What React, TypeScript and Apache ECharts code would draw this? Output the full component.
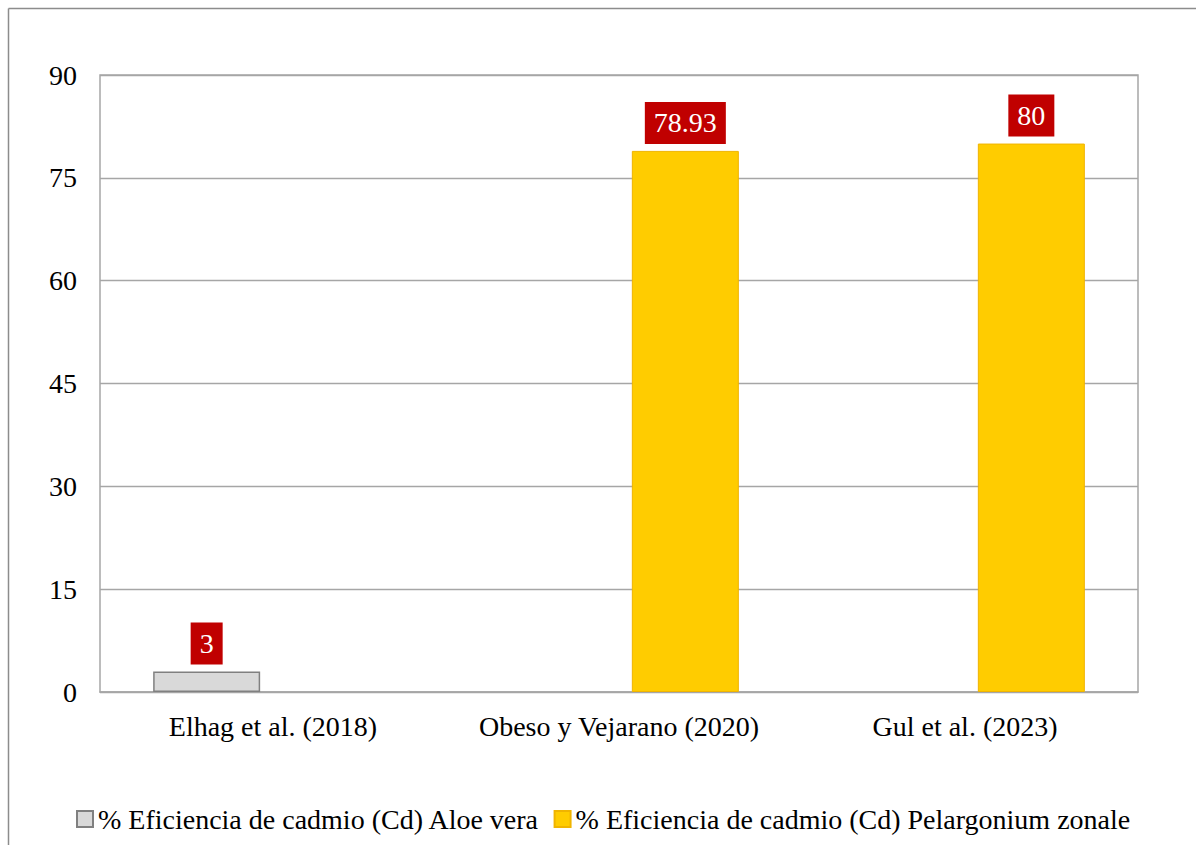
import React, { useEffect, useRef } from "react";
import * as echarts from "echarts";

const categories = ["Elhag et al. (2018)", "Obeso y Vejarano (2020)", "Gul et al. (2023)"];
const seriesNames = [
  "% Eficiencia de cadmio (Cd) Aloe vera",
  "% Eficiencia de cadmio (Cd) Pelargonium zonale",
];
const aloeValues: (number | string)[] = [3, "-", "-"];
const pelargoniumValues: (number | string)[] = ["-", 78.93, 80];
const yMin = 0;
const yMax = 90;
const yInterval = 15;

const FONT = "Liberation Serif";

export default function App() {
  const ref = useRef<HTMLDivElement>(null);
  useEffect(() => {
    if (!ref.current) return;
    const chart = echarts.init(ref.current, undefined, { renderer: "svg" });
    const label = {
      show: true,
      position: "top",
      distance: 7,
      backgroundColor: "#c00000",
      color: "#ffffff",
      fontFamily: FONT,
      fontSize: 28,
      lineHeight: 30,
      padding: [6, 9],
    };
    chart.setOption({
      animation: false,
      backgroundColor: "#ffffff",
      textStyle: { fontFamily: FONT },
      graphic: [
        {
          type: "line",
          shape: { x1: 8.5, y1: 8.5, x2: 1196, y2: 8.5 },
          style: { stroke: "#8c8c8c", lineWidth: 1.5 },
          silent: true,
        },
        {
          type: "line",
          shape: { x1: 8.5, y1: 8.5, x2: 8.5, y2: 845 },
          style: { stroke: "#8c8c8c", lineWidth: 1.5 },
          silent: true,
        },
      ],
      grid: {
        left: 100,
        right: 58,
        top: 75,
        bottom: 153,
        show: true,
        borderColor: "#a6a6a6",
        borderWidth: 1.5,
        containLabel: false,
      },
      legend: {
        left: 71,
        top: 800,
        itemWidth: 16,
        itemHeight: 16,
        itemGap: 14,
        icon: "rect",
        textStyle: { fontFamily: FONT, fontSize: 28, color: "#000000" },
        data: seriesNames,
      },
      xAxis: {
        type: "category",
        data: categories,
        axisLine: { show: true, lineStyle: { color: "#a6a6a6", width: 1.5 } },
        axisTick: { show: false },
        axisLabel: { fontFamily: FONT, fontSize: 28, color: "#000000", margin: 20, interval: 0 },
      },
      yAxis: {
        type: "value",
        min: yMin,
        max: yMax,
        interval: yInterval,
        axisLine: { show: false },
        axisTick: { show: false },
        splitLine: { lineStyle: { color: "#a6a6a6", width: 1.3 } },
        axisLabel: { fontFamily: FONT, fontSize: 28, color: "#000000", margin: 23 },
      },
      series: [
        {
          name: seriesNames[0],
          type: "bar",
          data: aloeValues,
          barWidth: 107,
          barGap: "24%",
          itemStyle: { color: "#d9d9d9", borderColor: "#808080", borderWidth: 1.5 },
          label,
        },
        {
          name: seriesNames[1],
          type: "bar",
          data: pelargoniumValues,
          barWidth: 107,
          barGap: "24%",
          itemStyle: { color: "#ffcc00", borderColor: "#f0b400", borderWidth: 1 },
          label,
        },
      ],
    });
    return () => chart.dispose();
  }, []);
  return (
    <div
      ref={ref}
      style={{ position: "fixed", left: 0, top: 0, width: 1196, height: 845 }}
    />
  );
}
